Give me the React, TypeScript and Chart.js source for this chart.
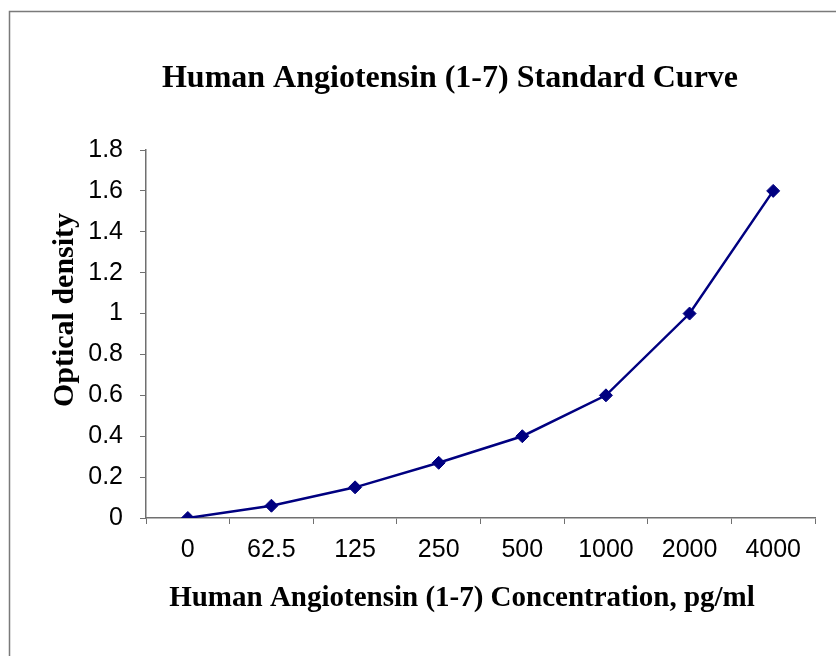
import React, { useEffect, useRef } from "react";
import { Chart, registerables } from "chart.js";

Chart.register(...registerables);

const categories = ["0", "62.5", "125", "250", "500", "1000", "2000", "4000"];
const opticalDensity = [0, 0.06, 0.15, 0.27, 0.4, 0.6, 1.0, 1.6];
const chartTitle = "Human Angiotensin (1-7) Standard Curve";
const xTitle = "Human Angiotensin (1-7) Concentration, pg/ml";
const yTitle = "Optical density";

const framePlugin = {
  id: "frameAndTitles",
  afterDraw(chart: any) {
    const ctx = chart.ctx as CanvasRenderingContext2D;
    ctx.save();
    // outer frame
    ctx.strokeStyle = "#7a7a7a";
    ctx.lineWidth = 1.5;
    ctx.beginPath();
    ctx.moveTo(9.5, 700);
    ctx.lineTo(9.5, 11.5);
    ctx.lineTo(900, 11.5);
    ctx.stroke();

    ctx.fillStyle = "#000";
    ctx.textAlign = "center";
    ctx.textBaseline = "alphabetic";
    ctx.font = "bold 32px 'Liberation Serif', 'Times New Roman', serif";
    ctx.fillText(chartTitle, 450, 87);
    ctx.font = "bold 29px 'Liberation Serif', 'Times New Roman', serif";
    ctx.fillText(xTitle, 462, 606);
    ctx.save();
    ctx.translate(73, 310);
    ctx.rotate(-Math.PI / 2);
    ctx.font = "bold 30px 'Liberation Serif', 'Times New Roman', serif";
    ctx.fillText(yTitle, 0, 0);
    ctx.restore();
    ctx.restore();
  },
};

export default function App() {
  const ref = useRef<HTMLCanvasElement | null>(null);

  useEffect(() => {
    if (!ref.current) return;
    const tickFont = { family: "'Liberation Sans', Arial, sans-serif", size: 25 };
    const chart = new Chart(ref.current, {
      type: "line",
      data: {
        labels: categories,
        datasets: [
          {
            data: opticalDensity,
            borderColor: "#000080",
            backgroundColor: "#000080",
            borderWidth: 2.5,
            pointStyle: "rectRot",
            pointRadius: 6.5,
            pointBorderWidth: 1,
            pointBackgroundColor: "#000080",
            pointBorderColor: "#000080",
            tension: 0,
            fill: false,
          },
        ],
      },
      options: {
        responsive: false,
        animation: false,
        layout: { padding: { top: 150, right: 21, bottom: 0, left: 0 } },
        plugins: {
          legend: { display: false },
          title: { display: false },
          tooltip: { enabled: false },
        },
        scales: {
          x: {
            type: "category",
            offset: true,
            grid: {
              offset: true,
              drawOnChartArea: false,
              drawTicks: true,
              tickLength: 6,
              color: "#707070",
            },
            border: { display: true, color: "#707070", width: 1.5 },
            ticks: { color: "#000", font: tickFont, padding: 11, maxRotation: 0, autoSkip: false },
            afterFit: (scale: any) => {
              scale.height = 138;
            },
          },
          y: {
            min: 0,
            max: 1.8,
            ticks: {
              stepSize: 0.2,
              color: "#000",
              font: tickFont,
              padding: 17,
              callback: (v: any) => String(Number(Number(v).toFixed(1))),
            },
            grid: {
              drawOnChartArea: false,
              drawTicks: true,
              tickLength: 6,
              color: "#707070",
            },
            border: { display: true, color: "#707070", width: 1.5 },
            afterFit: (scale: any) => {
              scale.width = 146;
            },
          },
        },
      },
      plugins: [framePlugin],
    });
    return () => chart.destroy();
  }, []);

  return (
    <div style={{ position: "fixed", left: 0, top: 0, width: 836, height: 656, background: "#fff" }}>
      <canvas ref={ref} width={836} height={656} style={{ display: "block" }} />
    </div>
  );
}
